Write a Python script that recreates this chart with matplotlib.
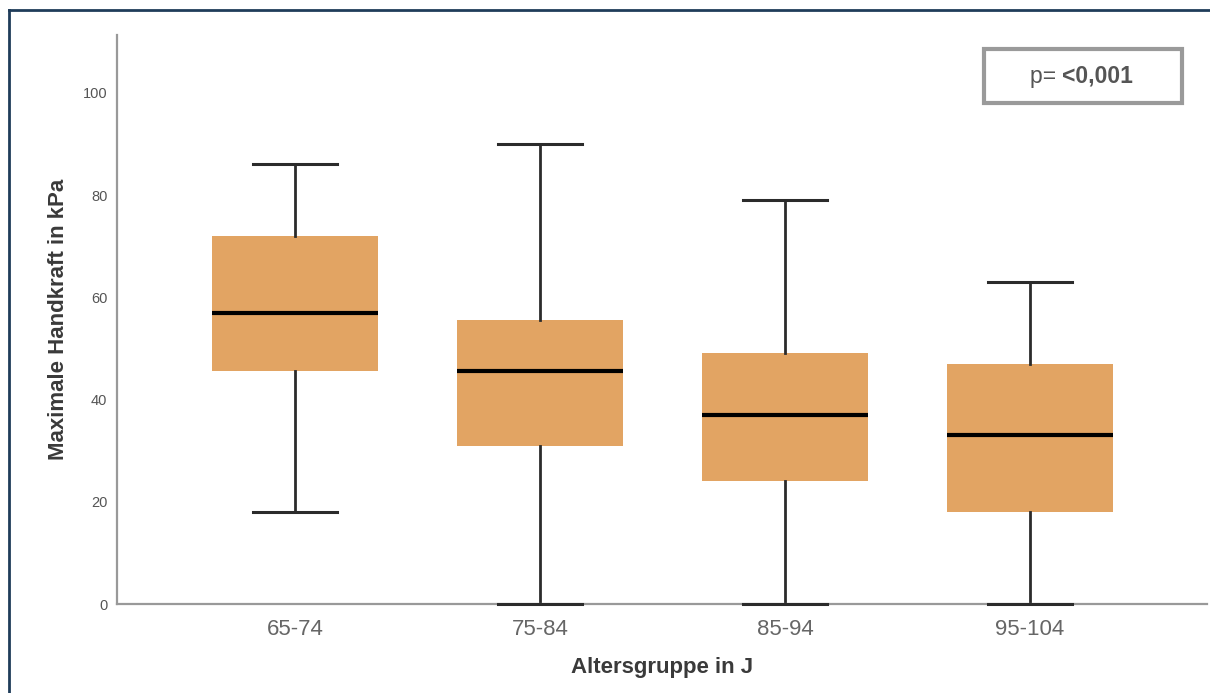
import matplotlib
matplotlib.use("Agg")
import matplotlib.pyplot as plt
from matplotlib.lines import Line2D
from matplotlib.patches import Rectangle

plt.rcParams['font.family'] = ['Liberation Sans', 'DejaVu Sans']

# Daten
groups = ['65-74', '75-84', '85-94', '95-104']
whisker_low = [18, 0, 0, 0]
q1 = [45.5, 31, 24, 18]
median = [57, 45.5, 37, 33]
q3 = [72, 55.6, 49, 47]
whisker_high = [86, 90, 79, 63]
p_text = '<0,001'

stats = []
for i, g in enumerate(groups):
    stats.append(dict(label=g, whislo=whisker_low[i], q1=q1[i], med=median[i],
                      q3=q3[i], whishi=whisker_high[i], fliers=[]))

fig = plt.figure(figsize=(12.1, 6.93), dpi=100)
ax = fig.add_axes([117 / 1210, 1 - 604 / 693, 1090 / 1210, 569 / 693])

box_color = '#E2A463'
parts = ax.bxp(stats, positions=range(len(groups)), widths=0.68, patch_artist=True,
               showfliers=False,
               boxprops=dict(facecolor=box_color, edgecolor=box_color, linewidth=0),
               medianprops=dict(color='black', linewidth=3),
               whiskerprops=dict(color='#2b2b2b', linewidth=2),
               capprops=dict(color='#2b2b2b', linewidth=2.2),
               capwidths=0.34)
for cap in parts['caps']:
    cap.set_zorder(5)
    cap.set_clip_on(False)

ax.set_xlim(-0.7265, 3.722)
ax.set_ylim(0, 111.3)
ax.set_yticks([0, 20, 40, 60, 80, 100])

for s in ['top', 'right']:
    ax.spines[s].set_visible(False)
for s in ['left', 'bottom']:
    ax.spines[s].set_color('#999999')
    ax.spines[s].set_linewidth(1.6)

ax.tick_params(axis='y', length=0, pad=7, labelsize=10.5, labelcolor='#555555')
ax.tick_params(axis='x', length=0, pad=11, labelsize=16, labelcolor='#666666')

ax.set_ylabel('Maximale Handkraft in kPa', fontsize=16, fontweight='bold',
              color='#3a3a3a', labelpad=10)
ax.set_xlabel('Altersgruppe in J', fontsize=16, fontweight='bold',
              color='#3a3a3a', labelpad=12)

# p-Wert Kasten
fig.add_artist(Rectangle((984 / 1210, 1 - 103 / 693), 198 / 1210, 54 / 693,
                         transform=fig.transFigure, facecolor='white',
                         edgecolor='#9a9a9a', linewidth=3))
fig.text(1062 / 1210, 1 - 76 / 693, 'p= ', fontsize=16.5, color='#555555',
         ha='right', va='center')
fig.text(1062 / 1210, 1 - 76 / 693, p_text, fontsize=16.5, color='#555555',
         fontweight='bold', ha='left', va='center')

# Rahmen oben und links
fig.add_artist(Line2D([8.5 / 1210, 1.0], [1 - 9.5 / 693, 1 - 9.5 / 693],
                      transform=fig.transFigure, color='#1f3c5a', linewidth=2))
fig.add_artist(Line2D([8.5 / 1210, 8.5 / 1210], [0, 1 - 9.5 / 693],
                      transform=fig.transFigure, color='#1f3c5a', linewidth=2))

fig.savefig('out.png', dpi=100)
